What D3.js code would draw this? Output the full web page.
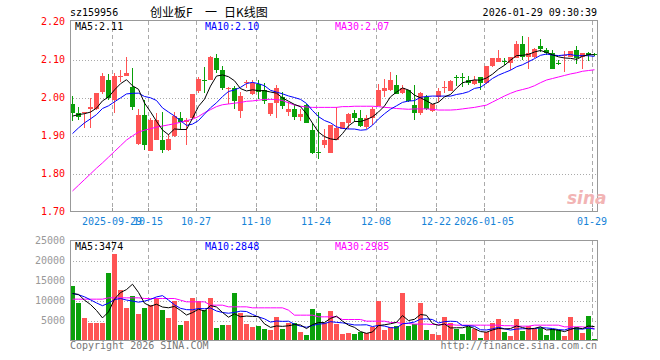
<!DOCTYPE html>
<html lang="zh">
<head>
<meta charset="UTF-8">
<title>sz159956</title>
<script src="https://cdn.jsdelivr.net/npm/d3@7/dist/d3.min.js"></script>
<style>
    body { margin: 0; background: #fff; }
    text { font-family: "DejaVu Sans Mono", monospace; font-size: 10px; }
</style>
</head>
<body>
<svg id="chart" width="660" height="360"></svg>
<script>
// trading days shown on the chart
var dates = [
    "2025-09-18","2025-09-19","2025-09-22","2025-09-23","2025-09-24","2025-09-25","2025-09-26","2025-09-29","2025-09-30",
    "2025-10-09","2025-10-10","2025-10-13","2025-10-14","2025-10-15","2025-10-16","2025-10-17","2025-10-20","2025-10-21",
    "2025-10-22","2025-10-23","2025-10-24","2025-10-27","2025-10-28","2025-10-29","2025-10-30","2025-10-31",
    "2025-11-03","2025-11-04","2025-11-05","2025-11-06","2025-11-07","2025-11-10","2025-11-11","2025-11-12","2025-11-13",
    "2025-11-14","2025-11-17","2025-11-18","2025-11-19","2025-11-20","2025-11-21","2025-11-24","2025-11-25","2025-11-26",
    "2025-11-27","2025-11-28",
    "2025-12-01","2025-12-02","2025-12-03","2025-12-04","2025-12-05","2025-12-08","2025-12-09","2025-12-10","2025-12-11",
    "2025-12-12","2025-12-15","2025-12-16","2025-12-17","2025-12-18","2025-12-19","2025-12-22","2025-12-23","2025-12-24",
    "2025-12-25","2025-12-26","2025-12-29","2025-12-30","2025-12-31",
    "2026-01-05","2026-01-06","2026-01-07","2026-01-08","2026-01-09","2026-01-12","2026-01-13","2026-01-14","2026-01-15",
    "2026-01-16","2026-01-19","2026-01-20","2026-01-21","2026-01-22","2026-01-23","2026-01-26","2026-01-27","2026-01-28",
    "2026-01-29"
];

var open = [
    1.982,1.960,1.958,1.969,1.971,2.015,2.047,1.993,2.055,2.057,
    2.028,1.878,1.953,1.860,1.889,1.888,1.861,1.900,1.946,1.935,
    1.947,2.018,2.047,2.047,2.104,2.072,2.024,2.026,1.965,2.038,
    2.009,2.035,2.021,1.956,1.986,2.002,1.962,1.969,1.949,1.980,
    1.914,1.856,1.875,1.853,1.889,1.918,1.933,1.960,1.947,1.923,
    1.947,1.977,2.018,2.019,2.032,2.011,2.019,1.980,1.958,2.002,
    1.965,2.002,2.026,2.018,2.054,2.055,2.047,2.035,2.053,2.037,
    2.082,2.094,2.097,2.092,2.103,2.142,2.107,2.107,2.135,2.125,
    2.116,2.091,2.108,2.107,2.125,2.107,2.116,2.115
];
var high = [
    2.004,1.976,1.963,2.000,2.012,2.065,2.062,2.065,2.073,2.106,
    2.077,1.969,1.993,1.945,1.958,1.962,1.904,1.961,1.962,1.947,
    2.010,2.053,2.081,2.108,2.114,2.082,2.028,2.030,2.015,2.046,
    2.046,2.047,2.039,1.986,2.032,2.015,1.989,1.980,1.971,1.982,
    1.932,1.962,1.916,1.927,1.974,1.936,1.960,1.967,1.967,1.954,
    1.974,2.035,2.050,2.067,2.059,2.032,2.019,2.032,2.015,2.006,
    1.982,2.026,2.044,2.046,2.059,2.065,2.056,2.056,2.053,2.082,
    2.103,2.125,2.105,2.107,2.148,2.161,2.160,2.131,2.154,2.129,
    2.125,2.098,2.122,2.122,2.136,2.116,2.120,2.117
];
var low = [
    1.939,1.941,1.919,1.919,1.967,2.010,1.993,1.960,2.041,2.057,
    1.967,1.876,1.863,1.858,1.888,1.854,1.860,1.896,1.914,1.875,
    1.945,2.012,2.012,2.046,2.065,2.021,1.982,1.970,1.945,2.026,
    2.006,1.997,1.982,1.951,1.947,1.971,1.951,1.940,1.939,1.932,
    1.851,1.839,1.868,1.853,1.888,1.916,1.918,1.936,1.923,1.918,
    1.927,1.977,2.002,2.017,2.009,2.009,1.989,1.942,1.953,1.967,
    1.962,1.989,2.011,2.017,2.030,2.028,2.032,2.032,2.021,2.035,
    2.081,2.094,2.085,2.072,2.103,2.098,2.076,2.103,2.120,2.111,
    2.076,2.085,2.068,2.107,2.087,2.076,2.096,2.108
];
var close = [
    1.960,1.950,1.962,1.976,2.012,2.056,2.000,2.056,2.057,2.065,
    1.976,1.954,1.875,1.942,1.940,1.861,1.892,1.951,1.935,1.940,
    2.009,2.049,2.045,2.107,2.072,2.024,2.026,1.991,2.004,2.041,
    2.039,2.015,1.991,1.986,2.026,1.977,1.971,1.949,1.956,1.933,
    1.853,1.854,1.889,1.927,1.920,1.935,1.956,1.947,1.925,1.947,
    1.971,2.019,2.026,2.046,2.009,2.026,1.991,1.958,2.012,1.969,
    1.982,2.017,2.028,2.044,2.052,2.053,2.037,2.046,2.039,2.082,
    2.103,2.104,2.095,2.107,2.142,2.107,2.116,2.127,2.127,2.116,
    2.076,2.089,2.112,2.122,2.103,2.116,2.111,2.111
];
var volume = [
    13667,9333,5667,4417,4417,4417,16833,21667,12583,8167,
    11083,6583,8167,8833,10667,7583,5667,9833,3833,4917,
    10667,9833,7583,10667,3167,3833,3833,11917,6917,4083,
    3333,3583,2833,2583,5833,2833,4333,4333,2083,1333,
    7833,6833,4333,7333,4083,1583,1833,1583,2083,1833,
    3333,9833,2583,3333,3583,11833,3583,4167,9333,2583,
    1583,1333,5833,4333,2833,1583,3333,2833,583,2083,
    4333,5333,2083,1083,5333,2333,3583,2833,3083,1333,
    2900,2711,1083,5800,3333,1833,6071,333
];

// closes / volumes of the days just before the window (for MA5 / MA10)
var prevClose = [1.800,1.830,1.870,1.900,1.895,1.930,1.950,1.955,1.960];
var prevVolume = [12500,10800,11900,12300,11250,10500,12800,9883,11900];

// 30-day averages
var ma30 = [
    1.754,1.769,1.784,1.799,1.814,1.828,1.843,1.858,1.873,1.888,
    1.899,1.909,1.914,1.918,1.922,1.925,1.928,1.931,1.935,1.939,
    1.943,1.950,1.960,1.968,1.976,1.981,1.983,1.985,1.987,1.990,
    1.991,1.993,1.995,1.995,1.995,1.992,1.986,1.980,1.977,1.975,
    1.974,1.974,1.974,1.974,1.974,1.976,1.976,1.977,1.977,1.977,
    1.977,1.976,1.974,1.973,1.971,1.970,1.969,1.970,1.970,1.970,
    1.969,1.967,1.967,1.967,1.968,1.970,1.972,1.974,1.977,1.980,
    1.988,1.996,2.004,2.011,2.017,2.021,2.025,2.031,2.039,2.046,
    2.050,2.054,2.058,2.062,2.065,2.069,2.071,2.073
];
var volMa30 = [
    10333,10333,10333,10333,10333,10333,10667,10667,10667,10667,
    10667,10667,10500,10500,10500,10500,10500,10500,10083,9667,
    9667,9667,9667,8833,8833,8833,8417,8417,8417,8417,
    8167,8167,8167,8167,8167,8167,7583,6333,6333,6333,
    6333,5917,5917,5917,5917,5250,5250,5250,5250,4833,
    4833,4833,4833,4500,4500,4250,4250,4100,4100,4100,
    4000,4000,4000,4000,3833,3833,3833,3833,3833,3833,
    3833,3833,3700,3700,3583,3583,3583,3833,3833,3833,
    3833,3833,3417,3417,3417,3417,3200,2985
];

var tickDates = ["2025-09-29","2025-10-15","2025-10-27","2025-11-10","2025-11-24","2025-12-08","2025-12-22","2026-01-05","2026-01-29"];
var tickLabels = ["2025-09-29","10-15","10-27","11-10","11-24","12-08","12-22","2026-01-05","01-29"];
var priceTicks = [2.20, 2.10, 2.00, 1.90, 1.80, 1.70];
var volTicks = [25000, 20000, 15000, 10000, 5000];

var RED = '#ff5454', GREEN = '#0aa00a', GRID = '#aaaaaa', BORDER = '#999999';
var LEFT = 70, RIGHT = 597;

function movingAvg(values, prev, n) {
    var all = prev.concat(values);
    return values.map(function (v, i) {
        var k = i + prev.length;
        return d3.mean(all.slice(k - n + 1, k + 1));
    });
}
// legend values are cut, not rounded
function cut2(v) { return (Math.floor(v * 100 + 1e-9) / 100).toFixed(2); }

var ma5 = movingAvg(close, prevClose, 5);
var ma10 = movingAvg(close, prevClose, 10);
var vma5 = movingAvg(volume, prevVolume, 5);
var vma10 = movingAvg(volume, prevVolume, 10);

var rows = dates.map(function (d, i) {
    return { date: d, o: open[i], h: high[i], l: low[i], c: close[i], v: volume[i],
             ma5: ma5[i], ma10: ma10[i], ma30: ma30[i], vma5: vma5[i], vma10: vma10[i], vma30: volMa30[i] };
});

var svg = d3.select('#chart');
svg.append('rect').attr('width', 660).attr('height', 360).attr('fill', '#fff');

var x = d3.scaleBand().domain(dates).range([LEFT, LEFT + 6 * dates.length]);
var y = d3.scaleLinear().domain([1.70, 2.20]).range([211.5, 21.5]);
var yv = d3.scaleLinear().domain([0, 25000]).range([340.5, 240.5]);
var px = function (v) { return Math.round(v) + 0.5; };

// ---- grids ----
function vGrid(top, bottom) {
    svg.append('g').selectAll('line').data(tickDates).enter().append('line')
        .attr('x1', function (d) { return x(d) + 0.5; })
        .attr('x2', function (d) { return x(d) + 0.5; })
        .attr('y1', top).attr('y2', bottom)
        .attr('stroke', GRID).attr('stroke-dasharray', '4,3');
}
vGrid(21, 211);
vGrid(241, 340);

svg.append('g').selectAll('line').data(priceTicks.slice(1, 5)).enter().append('line')
    .attr('x1', LEFT).attr('x2', RIGHT)
    .attr('y1', function (d) { return px(y(d)); }).attr('y2', function (d) { return px(y(d)); })
    .attr('stroke', GRID).attr('stroke-dasharray', '1,2');
svg.append('g').selectAll('line').data(volTicks.slice(1)).enter().append('line')
    .attr('x1', LEFT).attr('x2', RIGHT)
    .attr('y1', function (d) { return px(yv(d)); }).attr('y2', function (d) { return px(yv(d)); })
    .attr('stroke', GRID).attr('stroke-dasharray', '1,2');

// ---- candles ----
var up = function (d) { return d.c >= d.o; };
var candles = svg.append('g').attr('shape-rendering', 'crispEdges');
candles.selectAll('rect.wick').data(rows).enter().append('rect')
    .attr('class', 'wick')
    .attr('x', function (d) { return x(d.date) + 2; })
    .attr('width', 1)
    .attr('y', function (d) { return y(d.h); })
    .attr('height', function (d) { return Math.max(1, y(d.l) - y(d.h)); })
    .attr('fill', function (d) { return up(d) ? RED : GREEN; });
candles.selectAll('rect.body').data(rows).enter().append('rect')
    .attr('class', 'body')
    .attr('x', function (d) { return x(d.date); })
    .attr('width', 5)
    .attr('y', function (d) { return y(Math.max(d.o, d.c)); })
    .attr('height', function (d) { return Math.max(1, Math.abs(y(d.o) - y(d.c))); })
    .attr('fill', function (d) { return up(d) ? RED : GREEN; });

// ---- volume bars ----
svg.append('g').attr('shape-rendering', 'crispEdges')
    .selectAll('rect').data(rows).enter().append('rect')
    .attr('x', function (d) { return x(d.date); })
    .attr('width', 5)
    .attr('y', function (d) { return yv(d.v); })
    .attr('height', function (d) { return yv(0) - yv(d.v); })
    .attr('fill', function (d) { return up(d) ? RED : GREEN; });

// ---- average lines ----
function maLine(key, scale, color) {
    var line = d3.line()
        .x(function (d) { return x(d.date) + 2.5; })
        .y(function (d) { return scale(d[key]); });
    svg.append('path').datum(rows).attr('d', line)
        .attr('fill', 'none').attr('stroke', color).attr('stroke-width', 1);
}
maLine('ma30', y, '#ff00ff');
maLine('ma10', y, '#0000ff');
maLine('ma5', y, '#000000');
maLine('vma30', yv, '#ff00ff');
maLine('vma10', yv, '#0000ff');
maLine('vma5', yv, '#000000');

// ---- frames ----
svg.append('rect').attr('x', LEFT + 0.5).attr('y', 20.5).attr('width', RIGHT - LEFT).attr('height', 191)
    .attr('fill', 'none').attr('stroke', BORDER);
svg.append('rect').attr('x', LEFT + 0.5).attr('y', 240.5).attr('width', RIGHT - LEFT).attr('height', 100)
    .attr('fill', 'none').attr('stroke', BORDER);
svg.append('g').selectAll('line').data(tickDates).enter().append('line')
    .attr('x1', function (d) { return x(d) + 0.5; }).attr('x2', function (d) { return x(d) + 0.5; })
    .attr('y1', 208).attr('y2', 211).attr('stroke', BORDER);

// ---- axis labels ----
svg.append('g').selectAll('text').data(priceTicks).enter().append('text')
    .attr('x', 65).attr('y', function (d) { return y(d) + 3.5; })
    .attr('text-anchor', 'end').attr('fill', '#ff0000')
    .text(function (d) { return d.toFixed(2); });
svg.append('g').selectAll('text').data(volTicks).enter().append('text')
    .attr('x', 65).attr('y', function (d) { return yv(d) + 3.5; })
    .attr('text-anchor', 'end').attr('fill', '#999999')
    .text(function (d) { return d; });
svg.append('g').selectAll('text').data(tickDates).enter().append('text')
    .attr('x', function (d) { return x(d); }).attr('y', 225)
    .attr('text-anchor', 'middle').attr('fill', '#1683d8')
    .text(function (d, i) { return tickLabels[i]; });

// ---- header / legends ----
var last = rows[rows.length - 1];
svg.append('text').attr('x', 70).attr('y', 16).attr('fill', '#000').text('sz159956');
var cjk = '"Noto Sans CJK SC", sans-serif';
svg.append('text').attr('x', 150).attr('y', 17).attr('fill', '#000')
    .style('font-family', cjk).style('font-size', '12px').text('创业板F');
svg.append('text').attr('x', 205).attr('y', 17).attr('fill', '#000')
    .style('font-family', cjk).style('font-size', '12px').text('一');
svg.append('text').attr('x', 224).attr('y', 17).attr('fill', '#000')
    .style('font-family', cjk).style('font-size', '12px').text('日K线图');
svg.append('text').attr('x', 597).attr('y', 16).attr('text-anchor', 'end').attr('fill', '#000')
    .text('2026-01-29 09:30:39');

svg.append('text').attr('x', 75).attr('y', 30).attr('fill', '#000').text('MA5:' + cut2(last.ma5));
svg.append('text').attr('x', 205).attr('y', 30).attr('fill', '#0000ff').text('MA10:' + cut2(last.ma10));
svg.append('text').attr('x', 335).attr('y', 30).attr('fill', '#ff00ff').text('MA30:' + cut2(last.ma30));
svg.append('text').attr('x', 75).attr('y', 250).attr('fill', '#000').text('MA5:' + Math.round(last.vma5));
svg.append('text').attr('x', 205).attr('y', 250).attr('fill', '#0000ff').text('MA10:' + Math.round(last.vma10));
svg.append('text').attr('x', 335).attr('y', 250).attr('fill', '#ff00ff').text('MA30:' + Math.round(last.vma30));

svg.append('text').attr('x', 70).attr('y', 349).attr('fill', '#777').text('Copyright 2026 SINA.COM');
svg.append('text').attr('x', 597).attr('y', 349).attr('text-anchor', 'end').attr('fill', '#777')
    .text('http://finance.sina.com.cn');

// watermark
svg.append('text').attr('x', 567).attr('y', 204).attr('fill', '#f2b4b4')
    .style('font-family', '"DejaVu Sans", sans-serif').style('font-size', '17px')
    .style('font-weight', 'bold').style('font-style', 'italic').text('sina');
</script>
</body>
</html>
